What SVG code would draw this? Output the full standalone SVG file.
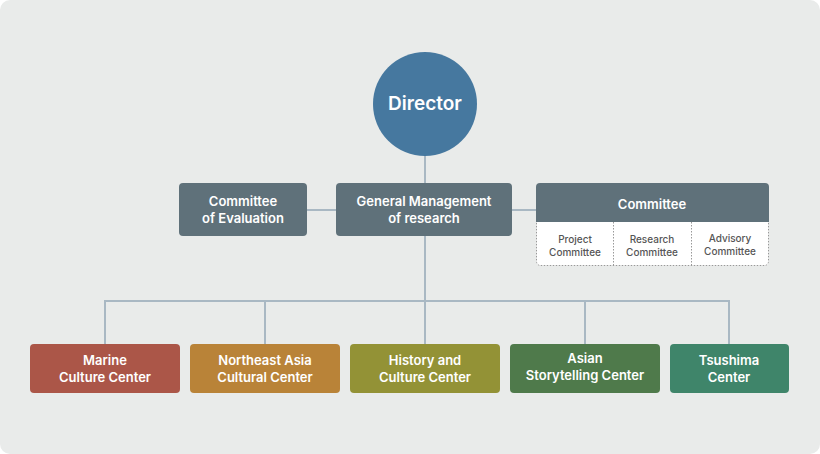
<svg xmlns="http://www.w3.org/2000/svg" width="820" height="454" viewBox="0 0 820 454">
<style>
text{font-family:Inter,"Noto Sans","Liberation Sans",sans-serif;font-weight:600;fill:#fff;text-anchor:middle}
.t{font-size:13px}
.s{font-size:10px;fill:#555;font-weight:500}
.g{fill:#5f717a}
.c line{stroke:#a9b8c3;stroke-width:2}
</style>
<rect x="0" y="0" width="820" height="454" rx="10" fill="#e9ebea"/>
<g class="c" id="connectors">
<line x1="425" y1="156" x2="425" y2="183"/>
<line x1="307" y1="210" x2="336" y2="210"/>
<line x1="512" y1="210" x2="536" y2="210"/>
<line x1="425" y1="236" x2="425" y2="344"/>
<line x1="104" y1="301" x2="730" y2="301"/>
<line x1="105" y1="300" x2="105" y2="344"/>
<line x1="265" y1="300" x2="265" y2="344"/>
<line x1="585" y1="300" x2="585" y2="344"/>
<line x1="729" y1="300" x2="729" y2="344"/>
</g>
<g id="director"><circle cx="425" cy="104" r="52" fill="#46789f"/><text x="425" y="110" font-size="19">Director</text></g>
<g id="evaluation"><rect class="g" x="179" y="183" width="128" height="53" rx="4"/><text class="t" x="243" y="206">Committee</text><text class="t" x="243" y="223">of Evaluation</text></g>
<g id="general"><rect class="g" x="336" y="183" width="176" height="53" rx="4"/><text class="t" x="424" y="206">General Management</text><text class="t" x="424" y="223">of research</text></g>
<g id="committee">
<rect x="536.5" y="215" width="232" height="50.5" rx="4" fill="#fff" stroke="#999" stroke-dasharray="1.5 1.5"/>
<path d="M536 222V187a4 4 0 0 1 4-4h225a4 4 0 0 1 4 4v35z" class="g"/>
<line x1="613.5" y1="222" x2="613.5" y2="265" stroke="#999" stroke-dasharray="1.5 1.5"/>
<line x1="691.5" y1="222" x2="691.5" y2="265" stroke="#999" stroke-dasharray="1.5 1.5"/>
<text class="t" x="652" y="209">Committee</text>
<text class="s" x="575" y="243">Project</text><text class="s" x="575" y="256">Committee</text>
<text class="s" x="652" y="243">Research</text><text class="s" x="652" y="256">Committee</text>
<text class="s" x="730" y="242">Advisory</text><text class="s" x="730" y="255">Committee</text>
</g>
<g id="marine"><rect x="30" y="344" width="150" height="49" rx="4" fill="#ab5648"/><text class="t" x="105" y="365">Marine</text><text class="t" x="105" y="382">Culture Center</text></g>
<g id="northeast"><rect x="190" y="344" width="150" height="49" rx="4" fill="#b98338"/><text class="t" x="265" y="365">Northeast Asia</text><text class="t" x="265" y="382">Cultural Center</text></g>
<g id="history"><rect x="350" y="344" width="150" height="49" rx="4" fill="#939236"/><text class="t" x="425" y="365">History and</text><text class="t" x="425" y="382">Culture Center</text></g>
<g id="asian"><rect x="510" y="344" width="150" height="49" rx="4" fill="#4f7a4b"/><text class="t" x="585" y="363">Asian</text><text class="t" x="585" y="380">Storytelling Center</text></g>
<g id="tsushima"><rect x="670" y="344" width="119" height="49" rx="4" fill="#3f856a"/><text class="t" x="729" y="365">Tsushima</text><text class="t" x="729" y="382">Center</text></g>
</svg>
